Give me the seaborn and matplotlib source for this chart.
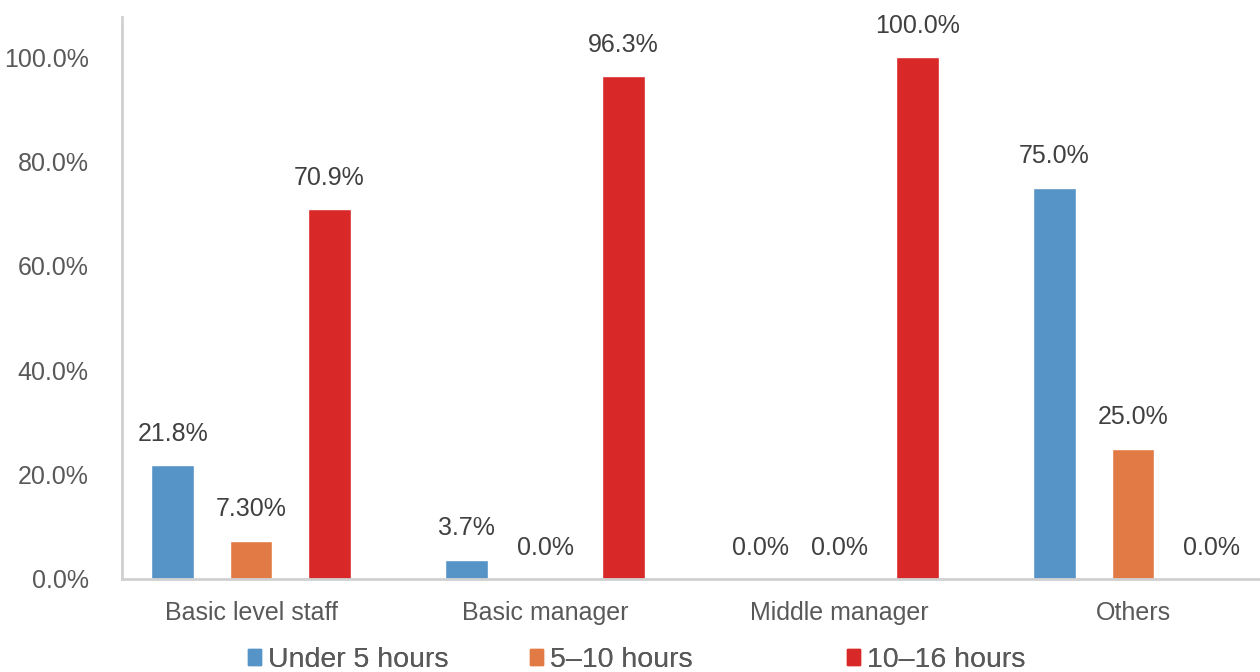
import matplotlib
matplotlib.use("Agg")
import matplotlib.pyplot as plt
import matplotlib.patches as mpatches
import seaborn as sns
import pandas as pd

categories = ["Basic level staff", "Basic manager", "Middle manager", "Others"]
series_names = ["Under 5 hours", "5\u201310 hours", "10\u201316 hours"]
under5 = [21.8, 3.7, 0.0, 75.0]
h5_10 = [7.3, 0.0, 0.0, 25.0]
h10_16 = [70.9, 96.3, 100.0, 0.0]
label_under5 = ["21.8%", "3.7%", "0.0%", "75.0%"]
label_5_10 = ["7.30%", "0.0%", "0.0%", "25.0%"]
label_10_16 = ["70.9%", "96.3%", "100.0%", "0.0%"]
yticks = [0, 20, 40, 60, 80, 100]
ytick_labels = ["0.0%", "20.0%", "40.0%", "60.0%", "80.0%", "100.0%"]

colors = ["#5694C8", "#E27A45", "#D92828"]

sns.set_theme(style="white")
plt.rcParams["font.family"] = ["Liberation Sans", "DejaVu Sans"]

rows = []
for vals, name in zip([under5, h5_10, h10_16], series_names):
    for c, v in zip(categories, vals):
        rows.append({"category": c, "series": name, "value": v})
df = pd.DataFrame(rows)

fig = plt.figure(figsize=(12.6, 6.72), dpi=100)
ax = fig.add_axes([122 / 1260, 1 - 579 / 672, 1 - 122 / 1260, (579 - 17) / 672])

sns.barplot(data=df, x="category", y="value", hue="series", order=categories,
            hue_order=series_names, palette=colors, width=0.8, gap=0.46,
            saturation=1, legend=False, ax=ax)

for cont, labs in zip(ax.containers, [label_under5, label_5_10, label_10_16]):
    ax.bar_label(cont, labels=labs, padding=14, fontsize=18, color="#404040")

ax.set_ylim(0, 107.7)
ax.set_xlim(-0.439, 3.432)
ax.set_yticks(yticks)
ax.set_yticklabels(ytick_labels)
ax.tick_params(axis="y", labelsize=18, labelcolor="#595959", length=0, pad=24)
ax.tick_params(axis="x", labelsize=18, labelcolor="#595959", length=0, pad=16)
for lab in ax.get_yticklabels():
    lab.set_horizontalalignment("right")
ax.set_xlabel("")
ax.set_ylabel("")
for s in ["top", "right"]:
    ax.spines[s].set_visible(False)
for s in ["left", "bottom"]:
    ax.spines[s].set_color("#D0D0D0")
    ax.spines[s].set_linewidth(2)

positions = [248 / 1260, 530 / 1260, 847 / 1260]
for name, col, xp in zip(series_names, colors, positions):
    h = mpatches.Patch(color=col, label=name)
    leg = fig.legend(handles=[h], loc="center left", bbox_to_anchor=(xp, 12 / 672),
                     frameon=False, fontsize=20.5, handlelength=0.45, handleheight=0.45,
                     handletextpad=0.25, borderpad=0, borderaxespad=0)
    for t in leg.get_texts():
        t.set_color("#595959")
    fig.add_artist(leg)

fig.savefig("out.png", dpi=100)
